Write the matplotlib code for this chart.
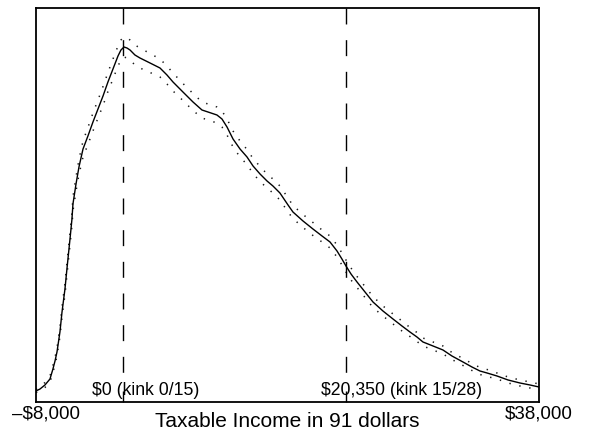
import matplotlib
matplotlib.use("Agg")
import matplotlib.pyplot as plt
import matplotlib.transforms as mtransforms

plt.rcParams['font.family'] = ['Liberation Sans', 'DejaVu Sans']
plt.rcParams['lines.scale_dashes'] = False

# === Kernel density of taxable income (arbitrary units) ===
income = [-8000, -7630, -7180, -6720, -6450, -6260, -6080, -5810, -5620, -5350,
          -5170, -4890, -4710, -4620, -4340, -4070, -3700, -3250, -2790, -2330,
          -1870, -1420, -960, -500, -230, 50, 320, 600, 1050, 1510,
          2430, 3340, 3980, 4530, 5440, 6360, 7180, 7730, 8550, 9010,
          9470, 10020, 10660, 11300, 11850, 12490, 13130, 13670, 14310, 15050,
          15500, 16420, 17330, 18160, 18890, 19530, 19980, 20350, 20810, 21360,
          22090, 22820, 23730, 24650, 25470, 26200, 26840, 27390, 28310, 29220,
          30040, 31050, 31870, 32600, 33250, 34160, 35170, 36260, 37180, 38000]

density = [11, 13, 17, 23, 33, 41, 50, 70, 90, 113,
           133, 163, 183, 198, 218, 235, 253, 266, 280, 293,
           306, 320, 333, 346, 352, 355, 354, 352, 347, 344,
           339, 334, 327, 320, 310, 300, 292, 290, 287, 283,
           275, 263, 253, 245, 236, 228, 221, 216, 209, 197,
           190, 181, 173, 166, 160, 151, 143, 136, 128, 120,
           110, 100, 91, 83, 76, 70, 65, 60, 56, 52,
           46, 40, 35, 31, 29, 26, 22, 19, 17, 15]

# upper / lower bands (dotted)
upper = [12.5, 15, 19.5, 26, 36.5, 44.5, 54, 74.5, 95, 118.5,
         139, 169, 189.5, 205, 225, 242.5, 261, 274.5, 289, 302,
         315.5, 329.5, 343, 356, 362, 365, 364, 362, 357, 354,
         348.5, 343, 336, 329, 318.5, 308.5, 300, 298, 295, 291,
         283, 271, 261, 252.5, 243.5, 235.5, 228, 223, 216, 204,
         196.5, 187.5, 179.5, 172, 166, 157, 149, 142, 134, 125.5,
         115.5, 105.5, 96, 88, 81, 74.5, 69.5, 64, 60, 56,
         49.5, 43.5, 38.5, 34.5, 32.5, 29, 25, 22, 20, 18]

lower = [9.5, 11, 14.5, 20, 29.5, 37.5, 46, 65.5, 85, 107.5,
         127, 157, 176.5, 191, 211, 227.5, 245, 257.5, 271, 284,
         296.5, 310.5, 323, 336, 342, 345, 344, 342, 337, 334,
         329.5, 325, 318, 311, 301.5, 291.5, 284, 282, 279, 275,
         267, 255, 245, 237.5, 228.5, 220.5, 214, 209, 202, 190,
         183.5, 174.5, 166.5, 160, 154, 145, 137, 130, 122, 114.5,
         104.5, 94.5, 86, 78, 71, 65.5, 60.5, 56, 52, 48,
         42.5, 36.5, 31.5, 27.5, 25.5, 23, 19, 16, 14, 12]

kinks = [0, 20350]
kink_labels = ["$0 (kink 0/15)", "$20,350 (kink 15/28)"]
x_ends = [-8000, 38000]
x_end_labels = ["\u2013$8,000", "$38,000"]

# =======================================
# PLOTTING
# =======================================
fig = plt.figure(figsize=(5.9, 4.35), dpi=100)
ax = fig.add_axes([0.061, 0.0736, 0.8525, 0.9057])

dots = dict(color='#1a1a1a', lw=1.1, ls=(0, (1.0, 6.3)))
ax.plot(income, upper, **dots)
ax.plot(income, lower, **dots)
ax.plot(income, density, color='black', lw=1.0)

label_offsets = [-23, -18]
for k, lab, off in zip(kinks, kink_labels, label_offsets):
    ax.plot([k, k], [394, 28], color='black', lw=1.0, ls=(0, (11.5, 11.3)))
    ax.annotate(lab, xy=(k, 8), xytext=(off, 0), textcoords='offset points',
                ha='left', va='baseline', fontsize=12.7)

ax.set_xlim(x_ends)
ax.set_ylim(0, 394)
ax.set_yticks([])
ax.set_xticks(x_ends, x_end_labels, fontsize=13.5)
ax.tick_params(axis='x', which='major', length=0, pad=1.5)
ax.set_xticks(kinks, minor=True)
ax.tick_params(axis='x', which='minor', direction='in', length=8, width=1.0)

shift = mtransforms.ScaledTranslation(0.10, 0, fig.dpi_scale_trans)
first = ax.get_xticklabels()[0]
first.set_transform(first.get_transform() + shift)

ax.set_xlabel("Taxable Income in 91 dollars", fontsize=15)
ax.xaxis.set_label_coords(0.5, -0.022)

for s in ax.spines.values():
    s.set_linewidth(1.3)

fig.savefig("out.png", dpi=100)
